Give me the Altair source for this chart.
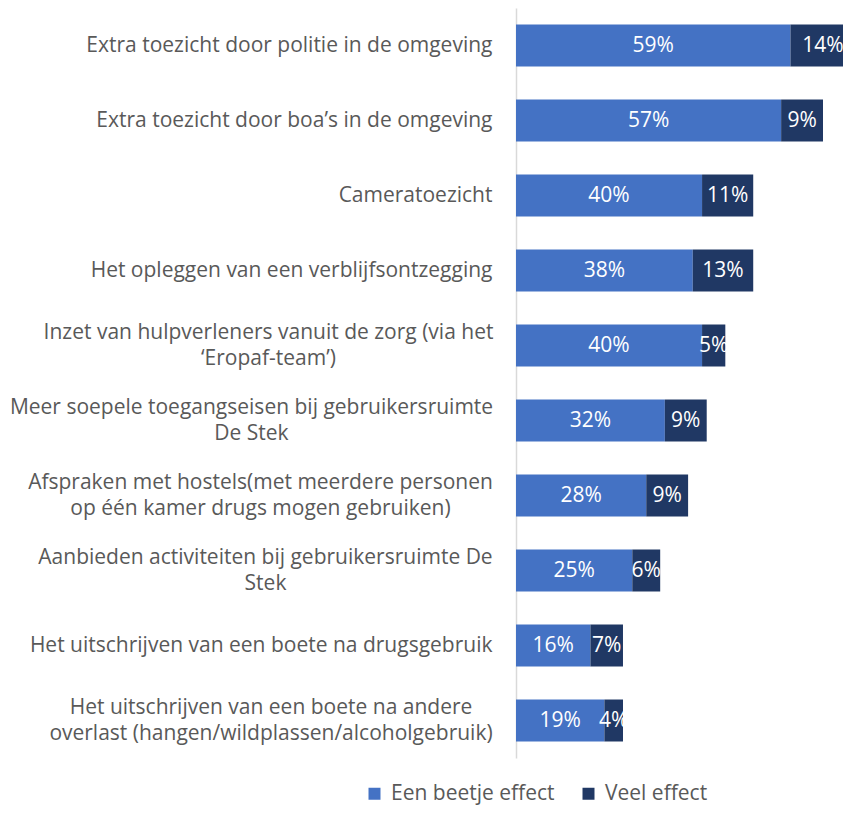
import altair as alt
import pandas as pd

categories = [
    "Extra toezicht door politie in de omgeving",
    "Extra toezicht door boa’s in de omgeving",
    "Cameratoezicht",
    "Het opleggen van een verblijfsontzegging",
    "Inzet van hulpverleners vanuit de zorg (via het|‘Eropaf-team’)",
    "Meer soepele toegangseisen bij gebruikersruimte|De Stek",
    "Afspraken met hostels(met meerdere personen|op één kamer drugs mogen gebruiken)",
    "Aanbieden activiteiten bij gebruikersruimte De|Stek",
    "Het uitschrijven van een boete na drugsgebruik",
    "Het uitschrijven van een boete na andere|overlast (hangen/wildplassen/alcoholgebruik)",
]
een_beetje = [0.59, 0.57, 0.40, 0.38, 0.40, 0.32, 0.28, 0.25, 0.16, 0.19]
veel = [0.14, 0.09, 0.11, 0.13, 0.05, 0.09, 0.09, 0.06, 0.07, 0.04]
series = ["Een beetje effect", "Veel effect"]
colors = ["#4472C4", "#203864"]

# estimated width (px) of the widest line of each two-line label, used to
# centre the lines of a wrapped label like the original text box does
wrapped_widths = {
    categories[4]: 448,
    categories[5]: 482,
    categories[6]: 464,
    categories[7]: 454,
    categories[9]: 443,
}

rows = []
for c, a, b in zip(categories, een_beetje, veel):
    rows.append({"cat": c, "serie": series[0], "value": a, "order": 0})
    rows.append({"cat": c, "serie": series[1], "value": b, "order": 1})
df = pd.DataFrame(rows)

FONT = "Open Sans"
FS = 21
PAD = 24

two_line = "indexof(datum.value, '|') >= 0"
pad_conditions = [
    {"test": "datum.value == " + repr(k), "value": PAD + w / 2}
    for k, w in wrapped_widths.items()
]

base = alt.Chart(df).transform_stack(
    stack="value", as_=["x0", "x1"], groupby=["cat"], sort=[alt.SortField("order")]
).transform_calculate(mid="(datum.x0 + datum.x1) / 2")

y_enc = alt.Y(
    "cat:N",
    sort=categories,
    scale=alt.Scale(paddingInner=0.44, paddingOuter=0.22),
    axis=alt.Axis(
        title=None,
        ticks=False,
        domainColor="#D9D9D9",
        domainWidth=1.5,
        labelExpr="split(datum.label, '|')",
        labelFont=FONT,
        labelFontSize=FS,
        labelColor="#595959",
        labelPadding={"condition": pad_conditions, "value": PAD},
        labelAlign={"condition": {"test": two_line, "value": "center"}, "value": "right"},
        labelOffset={"condition": {"test": two_line, "value": -13}, "value": 0},
        labelLineHeight=26,
        labelLimit=600,
    ),
)

x_scale = alt.Scale(domain=[0, 0.703], nice=False, zero=True)

bars = base.mark_bar().encode(
    y=y_enc,
    x=alt.X("x0:Q", scale=x_scale, axis=None),
    x2="x1:Q",
    color=alt.Color(
        "serie:N",
        scale=alt.Scale(domain=series, range=colors),
        legend=alt.Legend(
            title=None,
            orient="none",
            direction="horizontal",
            legendX=-152,
            legendY=775,
            symbolType="square",
            symbolSize=144,
            symbolStrokeWidth=0,
            labelFont=FONT,
            labelFontSize=FS,
            labelColor="#595959",
            labelOffset=6,
            labelLimit=400,
            columnPadding=23,
            symbolOffset=0,
        ),
    ),
)

texts = base.mark_text(color="white", font=FONT, fontSize=FS).encode(
    y=alt.Y("cat:N", sort=categories),
    x=alt.X("mid:Q", scale=x_scale),
    text=alt.Text("value:Q", format=".0%"),
)

chart = (
    alt.layer(bars, texts)
    .properties(
        width=327,
        height=750,
        autosize=alt.AutoSizeParams(type="none"),
        padding={"left": 508, "top": 0, "right": 0, "bottom": 49},
    )
    .configure_view(stroke=None)
)

chart.save("out.html", embed_options={"renderer": "svg", "actions": False})
